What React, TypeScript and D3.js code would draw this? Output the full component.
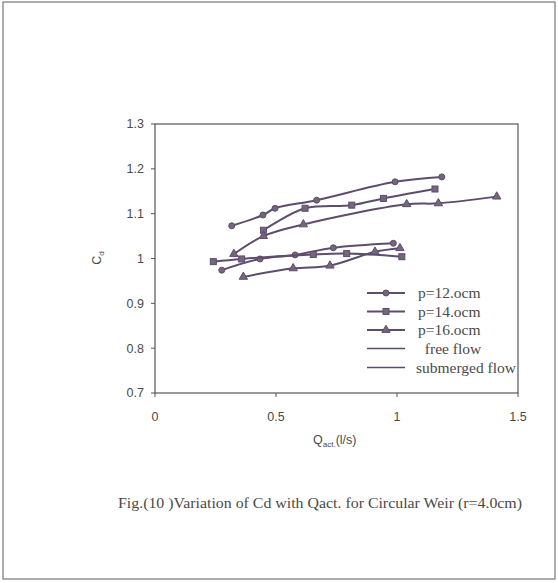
import * as d3 from "d3";
import React from "react";

// free flow series (upper curves)
const free12 = [[0.317, 1.073], [0.446, 1.097], [0.496, 1.112], [0.668, 1.13], [0.992, 1.171], [1.185, 1.182]];
const free14 = [[0.448, 1.063], [0.62, 1.112], [0.813, 1.119], [0.944, 1.134], [1.157, 1.155]];
const free16 = [[0.326, 1.01], [0.448, 1.05], [0.613, 1.076], [1.04, 1.121], [1.171, 1.123], [1.412, 1.138]];
// submerged flow series (lower curves)
const sub12 = [[0.276, 0.974], [0.434, 0.999], [0.579, 1.008], [0.737, 1.024], [0.985, 1.034]];
const sub14 = [[0.241, 0.993], [0.358, 0.999], [0.654, 1.009], [0.792, 1.011], [1.02, 1.004]];
const sub16 = [[0.365, 0.959], [0.571, 0.978], [0.723, 0.984], [0.909, 1.015], [1.012, 1.023]];

const xTicks = [0, 0.5, 1, 1.5];
const yTicks = [0.7, 0.8, 0.9, 1, 1.1, 1.2, 1.3];
const legendLabels = ["p=12.ocm", "p=14.ocm", "p=16.ocm", "free flow", "submerged flow"];

const lineColor = "#5e4c6c";
const markFill = "#76667a";
const textColor = "#4a4a4a";

const x = d3.scaleLinear().domain([0, 1.5]).range([155, 518]);
const y = d3.scaleLinear().domain([0.7, 1.3]).range([393, 124]);

const line = d3
  .line<number[]>()
  .x((d) => x(d[0]))
  .y((d) => y(d[1]))
  .curve(d3.curveCatmullRom.alpha(0.5));

type Shape = "circle" | "square" | "triangle";

const Marker = ({ cx, cy, shape }: { cx: number; cy: number; shape: Shape }) => {
  if (shape === "circle") return <circle cx={cx} cy={cy} r={3} fill={markFill} stroke={lineColor} strokeWidth={1} />;
  if (shape === "square") return <rect x={cx - 3} y={cy - 3} width={6} height={6} fill={markFill} stroke={lineColor} strokeWidth={1} />;
  const p = d3.symbol(d3.symbolTriangle, 30)();
  return <path d={p || ""} transform={`translate(${cx},${cy})`} fill={markFill} stroke={lineColor} strokeWidth={1} />;
};

const series: { data: number[][]; shape: Shape }[] = [
  { data: free12, shape: "circle" },
  { data: free14, shape: "square" },
  { data: free16, shape: "triangle" },
  { data: sub12, shape: "circle" },
  { data: sub14, shape: "square" },
  { data: sub16, shape: "triangle" },
];

const App = () => {
  const legendRows = [293, 311.5, 330, 348.5, 367.5];
  const legendShapes: (Shape | null)[] = ["circle", "square", "triangle", null, null];
  return (
    <svg width={558} height={583} style={{ position: "absolute", left: 0, top: 0, background: "#fff" }}>
      {/* outer frame */}
      <rect x={3} y={2} width={552} height={577} fill="none" stroke="#777" strokeWidth={1.2} />

      {/* plot frame */}
      <rect x={x(0)} y={y(1.3)} width={x(1.5) - x(0)} height={y(0.7) - y(1.3)} fill="none" stroke="#555" strokeWidth={1.2} />

      {/* y axis ticks */}
      {yTicks.map((t) => (
        <g key={t}>
          <line x1={x(0) - 4} x2={x(0)} y1={y(t)} y2={y(t)} stroke="#555" strokeWidth={1} />
          <text x={144} y={y(t)} dy="0.35em" textAnchor="end" fontFamily="Liberation Sans, Arial, sans-serif" fontSize={12.5} fill={textColor}>
            {d3.format("~g")(t)}
          </text>
        </g>
      ))}

      {/* x axis ticks */}
      {xTicks.map((t) => (
        <g key={t}>
          <line x1={x(t)} x2={x(t)} y1={y(0.7)} y2={y(0.7) + 4} stroke="#555" strokeWidth={1} />
          <text x={x(t)} y={421} textAnchor="middle" fontFamily="Liberation Sans, Arial, sans-serif" fontSize={12.5} fill={textColor}>
            {d3.format("~g")(t)}
          </text>
        </g>
      ))}

      {/* axis titles */}
      <text x={313} y={444} fontFamily="Liberation Sans, Arial, sans-serif" fontSize={12.5} fill={textColor}>
        Q<tspan fontSize={8} dy={3}>act.</tspan>
        <tspan dy={-3}>(l/s)</tspan>
      </text>
      <text transform="translate(101,258) rotate(-90)" textAnchor="middle" fontFamily="Liberation Sans, Arial, sans-serif" fontSize={12.5} fill={textColor}>
        C<tspan fontSize={8} dy={3}>d</tspan>
      </text>

      {/* series */}
      {series.map((s, i) => (
        <g key={i}>
          <path d={line(s.data) || ""} fill="none" stroke={lineColor} strokeWidth={2} />
          {s.data.map((d, j) => (
            <Marker key={j} cx={x(d[0])} cy={y(d[1])} shape={s.shape} />
          ))}
        </g>
      ))}

      {/* legend */}
      {legendLabels.map((lab, i) => (
        <g key={lab}>
          <line x1={367} x2={405} y1={legendRows[i]} y2={legendRows[i]} stroke={lineColor} strokeWidth={i < 3 ? 2 : 1.6} />
          {legendShapes[i] && <Marker cx={386} cy={legendRows[i]} shape={legendShapes[i] as Shape} />}
          <text
            x={i === 3 ? 453 : i === 4 ? 416 : 418}
            y={legendRows[i]}
            dy="0.35em"
            textAnchor={i === 3 ? "middle" : "start"}
            fontFamily="Liberation Serif, Times New Roman, serif"
            fontSize={15.5}
            fill={textColor}
          >
            {lab}
          </text>
        </g>
      ))}

      {/* caption */}
      <text
        x={320}
        y={508}
        textAnchor="middle"
        textLength={404}
        lengthAdjust="spacingAndGlyphs"
        fontFamily="Liberation Serif, Times New Roman, serif"
        fontSize={15}
        fill={textColor}
      >
        Fig.(10 )Variation of Cd with Qact. for Circular  Weir (r=4.0cm)
      </text>
    </svg>
  );
};

export default App;
